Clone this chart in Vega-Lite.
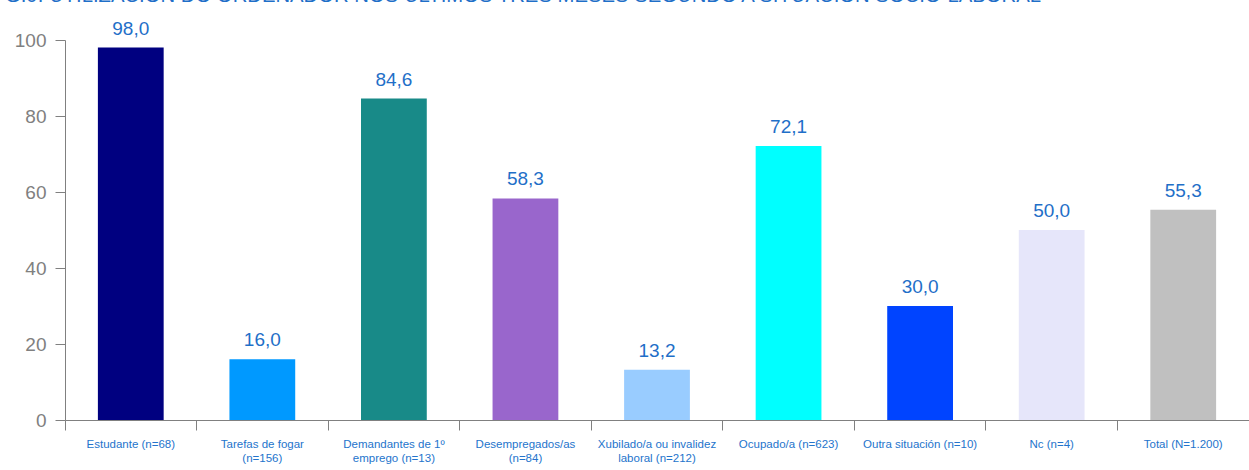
{
  "$schema": "https://vega.github.io/schema/vega-lite/v6.json",
  "autosize": "none",
  "width": 1184,
  "height": 380,
  "padding": {"left": 65, "top": 40, "right": 0, "bottom": 50},
  "background": "white",
  "title": {
    "text": "G.9. UTILIZACIÓN DO ORDENADOR NOS ÚLTIMOS TRES MESES SEGUNDO A SITUACIÓN SOCIO-LABORAL",
    "anchor": "start",
    "frame": "group",
    "orient": "top",
    "baseline": "alphabetic",
    "offset": 0,
    "dy": 3,
    "dx": -60,
    "font": "Liberation Sans",
    "fontSize": 20.3,
    "fontWeight": "normal",
    "color": "#1F6FC8"
  },
  "config": {
    "view": {"stroke": null},
    "locale": {
      "number": {"decimal": ",", "thousands": ".", "grouping": [3], "currency": ["", " €"]}
    }
  },
  "data": {
    "values": [
      {"cat": "Estudante (n=68)", "v": 98.0},
      {"cat": "Tarefas de fogar|(n=156)", "v": 16.0},
      {"cat": "Demandantes de 1º|emprego (n=13)", "v": 84.6},
      {"cat": "Desempregados/as|(n=84)", "v": 58.3},
      {"cat": "Xubilado/a ou invalidez|laboral (n=212)", "v": 13.2},
      {"cat": "Ocupado/a (n=623)", "v": 72.1},
      {"cat": "Outra situación (n=10)", "v": 30.0},
      {"cat": "Nc (n=4)", "v": 50.0},
      {"cat": "Total (N=1.200)", "v": 55.3}
    ]
  },
  "encoding": {
    "x": {
      "field": "cat",
      "type": "nominal",
      "sort": null,
      "scale": {"paddingInner": 0, "paddingOuter": 0},
      "axis": {
        "title": null,
        "labelAngle": 0,
        "bandPosition": 0,
        "labelExpr": "split(datum.label, '|')",
        "labelFont": "Liberation Sans",
        "labelFontSize": 11.5,
        "labelColor": "#2474CC",
        "labelLineHeight": 14,
        "labelPadding": 8,
        "labelLimit": 200,
        "domainColor": "#808080",
        "tickColor": "#808080",
        "tickSize": 10,
        "domainWidth": 1,
        "grid": false
      }
    },
    "y": {
      "field": "v",
      "type": "quantitative",
      "scale": {"domain": [0, 100], "nice": false},
      "axis": {
        "title": null,
        "values": [0, 20, 40, 60, 80, 100],
        "grid": false,
        "labelFont": "Liberation Sans",
        "labelFontSize": 19,
        "labelColor": "#808080",
        "labelPadding": 9,
        "domainColor": "#808080",
        "tickColor": "#808080",
        "tickSize": 10
      }
    }
  },
  "layer": [
    {
      "mark": {"type": "bar", "width": {"band": 0.5}},
      "encoding": {
        "color": {
          "field": "cat",
          "type": "nominal",
          "legend": null,
          "scale": {
            "domain": ["Estudante (n=68)", "Tarefas de fogar|(n=156)", "Demandantes de 1º|emprego (n=13)", "Desempregados/as|(n=84)", "Xubilado/a ou invalidez|laboral (n=212)", "Ocupado/a (n=623)", "Outra situación (n=10)", "Nc (n=4)", "Total (N=1.200)"],
            "range": ["#000080", "#0099FF", "#188A88", "#9966CC", "#99CCFF", "#00FFFF", "#0044FF", "#E6E6FA", "#C0C0C0"]
          }
        }
      }
    },
    {
      "mark": {"type": "text", "baseline": "bottom", "dy": -9, "font": "Liberation Sans", "fontSize": 19, "color": "#1F6FC8"},
      "encoding": {
        "text": {"field": "v", "type": "quantitative", "format": ".1f"}
      }
    }
  ]
}
